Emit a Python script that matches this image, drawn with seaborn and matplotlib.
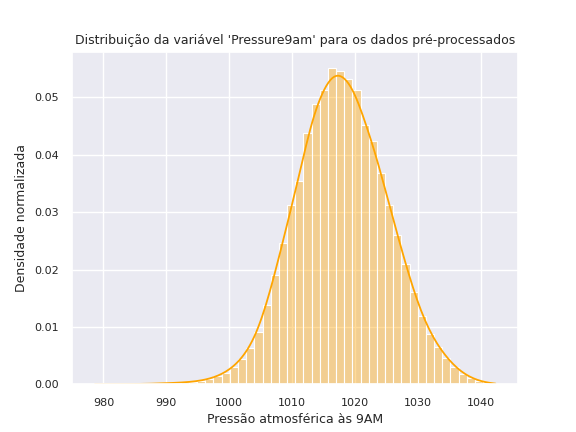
import numpy as np
import pandas as pd
import matplotlib
matplotlib.use('Agg')
import matplotlib.pyplot as plt
import seaborn as sns

sns.set_theme(style='darkgrid')

# bin edges and heights
bin_start = 978.0
bin_width = 1.3
heights = [0.00005, 0.00005, 0.00005, 0.00005, 0.00005, 0.0001, 0.0001, 0.00015, 0.0002, 0.00025,
           0.0003, 0.0004, 0.0005, 0.0007, 0.001, 0.0015, 0.0022, 0.0032, 0.0048, 0.0068,
           0.0098, 0.0148, 0.0205, 0.0265, 0.0335, 0.0380, 0.0470, 0.0525, 0.0550, 0.0592,
           0.0585, 0.0570, 0.0550, 0.0485, 0.0455, 0.0395, 0.0335, 0.0280, 0.0225, 0.0172,
           0.0128, 0.0095, 0.0070, 0.0050, 0.0033, 0.0020, 0.0012, 0.0006, 0.0003, 0.0001]

nbins = len(heights)
centers = bin_start + bin_width * (np.arange(nbins) + 0.5)
df = pd.DataFrame({'pressao': centers, 'peso': heights})

fig, ax = plt.subplots(figsize=(5.76, 4.32), dpi=100)
sns.histplot(data=df, x='pressao', weights='peso', bins=nbins,
             binrange=(bin_start, bin_start + bin_width * nbins), stat='density', kde=True,
             color='orange', alpha=0.4, edgecolor='white', linewidth=0.8,
             kde_kws={'bw_adjust': 0.35}, line_kws={'linewidth': 1.3}, ax=ax)
ax.set_title("Distribuição da variável 'Pressure9am' para os dados pré-processados", fontsize=9)
ax.set_xlabel('Pressão atmosférica às 9AM', fontsize=9)
ax.set_ylabel('Densidade normalizada', fontsize=9)
ax.tick_params(labelsize=8)
ax.set_xlim(975, 1046)
fig.subplots_adjust(left=0.125, right=0.9, top=0.88, bottom=0.11)
fig.savefig('out.png', dpi=100)
